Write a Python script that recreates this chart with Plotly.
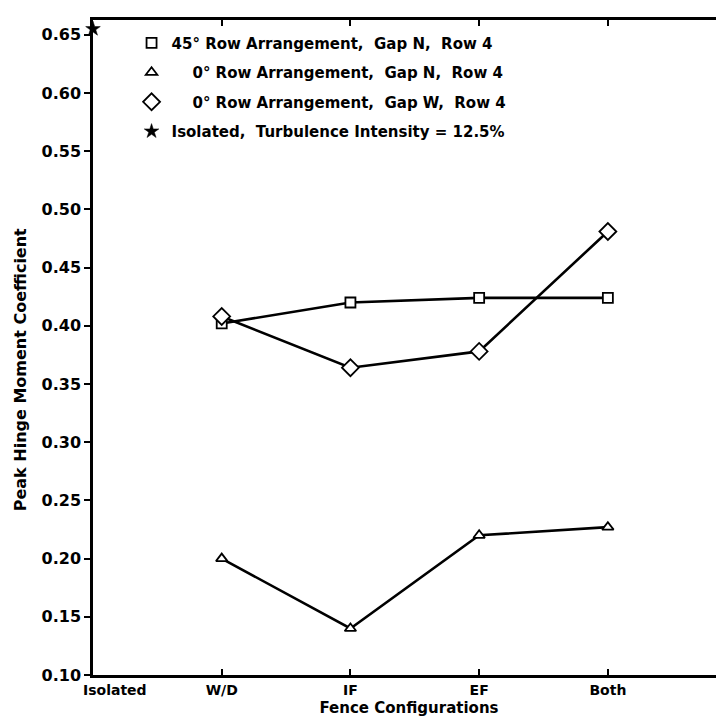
import plotly.graph_objects as go

categories = ["Isolated", "W/D", "IF", "EF", "Both"]
cat_pos = [0, 1, 2, 3, 4]
cat_labels = ["", "W/D", "IF", "EF", "Both"]

sq_x = ["W/D", "IF", "EF", "Both"]
sq_y = [0.402, 0.420, 0.424, 0.424]

tri_x = ["W/D", "IF", "EF", "Both"]
tri_y = [0.200, 0.140, 0.220, 0.227]

dia_x = ["W/D", "IF", "EF", "Both"]
dia_y = [0.408, 0.364, 0.378, 0.481]

iso_x = ["Isolated"]
iso_y = [0.655]

names = [
    "45° Row Arrangement,  Gap N,  Row 4",
    "\u00a0\u00a0\u00a0 0° Row Arrangement,  Gap N,  Row 4",
    "\u00a0\u00a0\u00a0 0° Row Arrangement,  Gap W,  Row 4",
    "Isolated,  Turbulence Intensity = 12.5%",
]

y_ticks = [0.10, 0.15, 0.20, 0.25, 0.30, 0.35, 0.40, 0.45, 0.50, 0.55, 0.60, 0.65]
Y_RANGE = [0.10, 0.6627]

idx = {c: i for c, i in zip(categories, cat_pos)}

FONT = "DejaVu Sans"
fig = go.Figure()

def add_series(xs, ys, symbol, name, size):
    mk = dict(symbol=symbol, size=size, color="white",
              line=dict(color="black", width=1.8))
    fig.add_trace(go.Scatter(
        x=[idx[c] for c in xs], y=ys, mode="lines+markers",
        line=dict(color="black", width=2.6),
        marker=mk, showlegend=False, cliponaxis=False,
    ))
    fig.add_trace(go.Scatter(
        x=[None], y=[None], mode="markers", name=name,
        marker=mk, legendgroup=name,
    ))

add_series(sq_x, sq_y, "square", names[0], 10)
add_series(tri_x, tri_y, "triangle-up", names[1], 10)
add_series(dia_x, dia_y, "diamond", names[2], 13)

star = dict(symbol="star", size=11, color="black", line=dict(color="black", width=0.5))
fig.add_trace(go.Scatter(
    x=[idx[c] for c in iso_x], y=iso_y, mode="markers",
    marker=star, showlegend=False, cliponaxis=False,
))
fig.add_trace(go.Scatter(
    x=[None], y=[None], mode="markers", name=names[3],
    marker=star, legendgroup=names[3],
))

fig.add_trace(go.Scatter(x=[None], y=[None], yaxis="y2", showlegend=False))

fig.update_layout(
    width=724, height=722,
    margin=dict(l=85, r=4, t=12, b=55),
    paper_bgcolor="white", plot_bgcolor="white",
    font=dict(family=FONT, color="black", size=14, weight="bold"),
    legend=dict(
        x=0.061, y=0.99, xanchor="left", yanchor="top",
        bgcolor="rgba(0,0,0,0)", traceorder="grouped",
        tracegroupgap=7, font=dict(size=15, family=FONT, weight="bold"),
        itemwidth=30,
    ),
    xaxis=dict(
        range=[0, 4.91], tickmode="array", tickvals=cat_pos, ticktext=cat_labels,
        showgrid=False, zeroline=False, showline=True, linecolor="black",
        linewidth=2.5, mirror="ticks", ticks="inside", ticklen=6, tickwidth=1.5,
        tickcolor="black", tickfont=dict(size=14, family=FONT, weight="bold"),
        title=dict(text="Fence Configurations", font=dict(size=15, family=FONT, weight="bold"), standoff=6),
    ),
    yaxis=dict(
        range=Y_RANGE, tickmode="array", tickvals=y_ticks,
        ticktext=[f"{v:.2f}" for v in y_ticks],
        showgrid=False, zeroline=False, showline=True, linecolor="black",
        linewidth=2.5, ticks="outside", ticklen=6, tickwidth=1.5, tickcolor="black",
        tickfont=dict(size=16, family=FONT, weight="bold"),
    ),
    yaxis2=dict(
        overlaying="y", side="right", matches="y", range=Y_RANGE,
        tickmode="array", tickvals=y_ticks, showticklabels=False,
        showgrid=False, zeroline=False, showline=False,
        ticks="outside", ticklen=3, tickwidth=2, tickcolor="black",
    ),
    annotations=[
        dict(
            text="Peak Hinge Moment Coefficient", textangle=-90,
            xref="paper", yref="paper", x=-0.102, y=0.466, xshift=-8,
            xanchor="center", yanchor="middle", showarrow=False,
            font=dict(size=16, family=FONT, weight="bold"),
        ),
        dict(
            text=categories[0], xref="x", yref="paper", x=cat_pos[0], y=0,
            xanchor="left", yanchor="top", xshift=-12, yshift=-5,
            showarrow=False, font=dict(size=14, family=FONT, weight="bold"),
        ),
    ],
)

fig.write_html("out.html")
